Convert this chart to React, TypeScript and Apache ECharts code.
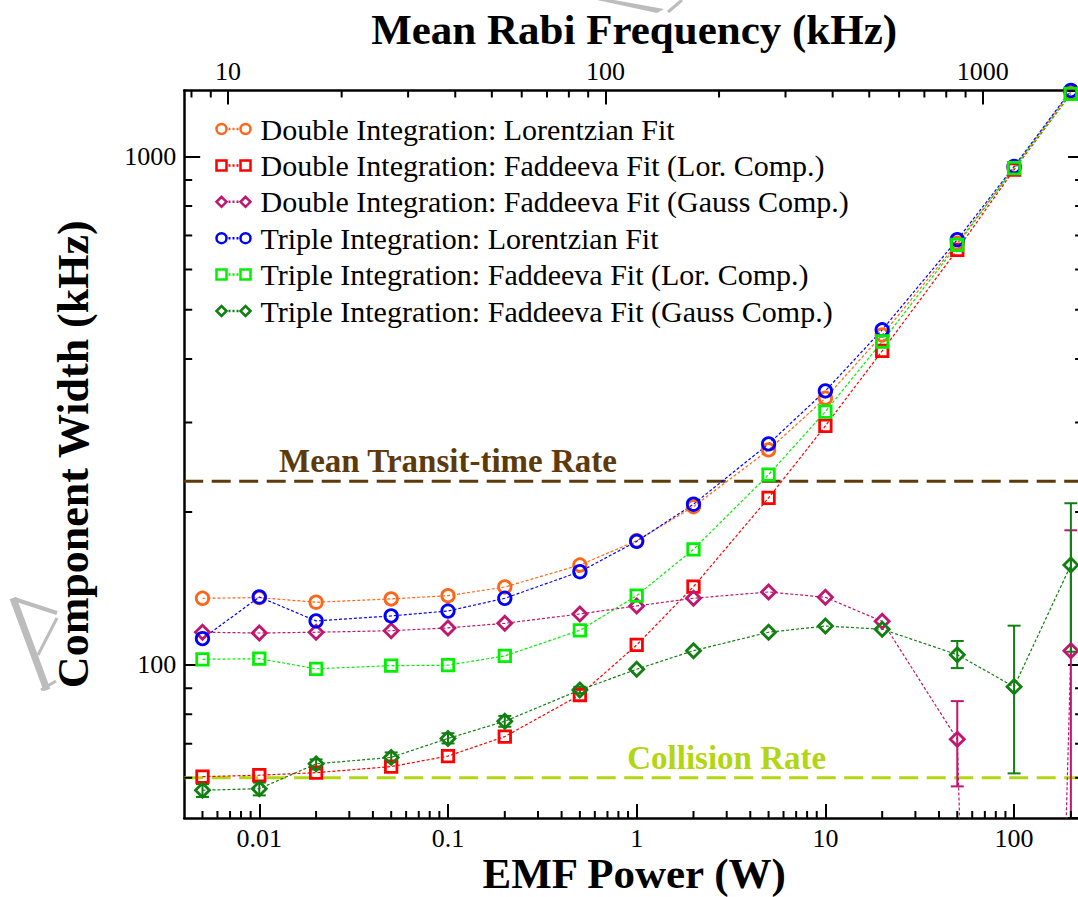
import { useEffect, useRef } from "react";
import * as echarts from "echarts";

// EMF power settings (W), shared by all six fit series
const powerW = [0.005, 0.01, 0.02, 0.05, 0.1, 0.2, 0.5, 1, 2, 5, 10, 20, 50, 100, 200];

// Fitted component widths (kHz) at each power
const doubleLorentzian = [135.3, 135.7, 132.9, 134.9, 136.9, 142.4, 157.3, 175.6, 204.9, 265, 335, 446, 676, 950, 1343];
const doubleFaddeevaLor = [60.3, 60.7, 61.4, 63.1, 66.2, 72.3, 87.3, 109.5, 142.6, 213.2, 295.4, 415, 656, 943, 1330];
const doubleFaddeevaGauss = [116, 115.6, 116, 116.8, 118.3, 120.8, 126, 130.7, 135.3, 139.2, 135.9, 121.9, 71.4, 0.01, 106.7];
const tripleLorentzian = [112.7, 136.1, 122.1, 124.9, 127.7, 135.3, 152.6, 175.1, 207.2, 272.3, 346.2, 456.5, 686.6, 957, 1350];
const tripleFaddeevaLor = [102.6, 102.9, 98.3, 99.7, 99.9, 104.2, 117, 136.9, 168.9, 236.9, 315.2, 433, 671, 950, 1330];
const tripleFaddeevaGauss = [56.7, 57.1, 63.9, 65.8, 71.7, 77.5, 89.3, 98.1, 106.7, 116, 119.3, 117.6, 104.8, 90.6, 157.3];

// Error bars: [power (W), lower (kHz), upper (kHz)]
const doubleGaussErrors = [
  [50, 57.7, 84.9],
  [200, 10, 184.1],
];
const tripleGaussErrors = [
  [0.005, 55.0, 58.3],
  [0.01, 55.4, 58.7],
  [0.02, 62.3, 65.2],
  [0.05, 64.4, 67.3],
  [0.1, 70.1, 73.4],
  [0.2, 75.6, 79.4],
  [0.5, 88.0, 90.6],
  [50, 98.6, 111.5],
  [100, 61.2, 119.5],
  [200, 106.2, 208.1],
];

const seriesNames = [
  "Double Integration: Lorentzian Fit",
  "Double Integration: Faddeeva Fit (Lor. Comp.)",
  "Double Integration: Faddeeva Fit (Gauss Comp.)",
  "Triple Integration: Lorentzian Fit",
  "Triple Integration: Faddeeva Fit (Lor. Comp.)",
  "Triple Integration: Faddeeva Fit (Gauss Comp.)",
];
const seriesValues = [
  doubleLorentzian,
  doubleFaddeevaLor,
  doubleFaddeevaGauss,
  tripleLorentzian,
  tripleFaddeevaLor,
  tripleFaddeevaGauss,
];
const seriesColors = ["#ff6618", "#ff0000", "#bf1770", "#0000ff", "#00f000", "#108010"];
const seriesSymbols = ["circle", "rect", "diamond", "circle", "rect", "diamond"];

// Reference rates (kHz) drawn as dashed horizontal lines
const rateNames = ["Mean Transit-time Rate", "Collision Rate"];
const rateValues = [230, 60];
const rateLabelPowerW = [0.1, 3];
const rateColors = ["#5e3a0a", "#b2d611"];

// Axis ranges
const P_MIN = 0.004;
const P_MAX = 235;
const WIDTH_MIN = 50;
const WIDTH_MAX = 1350;
// Mean Rabi frequency scales as the square root of the EMF power
const RABI_KHZ_PER_SQRT_W = 121;
const RABI_MIN = RABI_KHZ_PER_SQRT_W * Math.sqrt(P_MIN);
const RABI_MAX = RABI_KHZ_PER_SQRT_W * Math.sqrt(P_MAX);

const FONT = '"Liberation Serif", "Times New Roman", serif';
const INK = "#000";

// Minor tick values at 2..9 of every decade within (lo, hi)
function decadeMinors(lo: number, hi: number): number[] {
  const out: number[] = [];
  for (let e = Math.floor(Math.log10(lo)); e <= Math.ceil(Math.log10(hi)); e++) {
    for (let d = 2; d <= 9; d++) {
      const v = Number((d * Math.pow(10, e)).toPrecision(6));
      if (v > lo && v < hi) out.push(v);
    }
  }
  return out;
}

const legendIcons: Record<string, string> = {
  circle:
    "path://M0,5a5,5 0 1,0 10,0a5,5 0 1,0 -10,0M24,5a5,5 0 1,0 10,0a5,5 0 1,0 -10,0M12,5L14,5M16,5L18,5M20,5L22,5",
  rect: "path://M0,0L10,0L10,10L0,10ZM24,0L34,0L34,10L24,10ZM12,5L14,5M16,5L18,5M20,5L22,5",
  diamond: "path://M5,0L10,5L5,10L0,5ZM29,0L34,5L29,10L24,5ZM12,5L14,5M16,5L18,5M20,5L22,5",
};

const fmt = (v: number) => String(Number(Number(v).toPrecision(6)));

function errorBarSeries(name: string, color: string, bars: number[][]) {
  return {
    type: "custom",
    name,
    xAxisIndex: 0,
    yAxisIndex: 0,
    z: 3,
    silent: true,
    clip: true,
    data: bars,
    encode: { x: 0, y: [1, 2] },
    renderItem: (_params: any, api: any) => {
      const p = api.value(0);
      const lo = api.coord([p, api.value(1)]);
      const hi = api.coord([p, api.value(2)]);
      const cap = 6.5;
      const style = { stroke: color, lineWidth: 2 };
      return {
        type: "group",
        children: [
          { type: "line", shape: { x1: lo[0], y1: lo[1], x2: hi[0], y2: hi[1] }, style },
          { type: "line", shape: { x1: lo[0] - cap, y1: lo[1], x2: lo[0] + cap, y2: lo[1] }, style },
          { type: "line", shape: { x1: hi[0] - cap, y1: hi[1], x2: hi[0] + cap, y2: hi[1] }, style },
        ],
      };
    },
  };
}

// Short inward ticks at 2..9 of each decade, placed through the axis scales
function minorTickSeries(kind: "bottom" | "top" | "y", values: number[]) {
  return {
    type: "custom",
    name: "minor-" + kind,
    xAxisIndex: kind === "top" ? 1 : 0,
    yAxisIndex: 0,
    silent: true,
    z: 5,
    data: values.map((v) => (kind === "y" ? [1, v] : [v, 100])),
    renderItem: (params: any, api: any) => {
      const cs = params.coordSys;
      const style = { stroke: INK, lineWidth: 2 };
      if (kind === "y") {
        const py = api.coord([1, api.value(1)])[1];
        return {
          type: "group",
          children: [
            { type: "line", shape: { x1: cs.x, y1: py, x2: cs.x + 8, y2: py }, style },
            { type: "line", shape: { x1: cs.x + cs.width, y1: py, x2: cs.x + cs.width - 9, y2: py }, style },
          ],
        };
      }
      const px = api.coord([api.value(0), 100])[0];
      if (kind === "bottom") {
        const yb = cs.y + cs.height;
        return { type: "line", shape: { x1: px, y1: yb, x2: px, y2: yb - 7 }, style };
      }
      return { type: "line", shape: { x1: px, y1: cs.y, x2: px, y2: cs.y + 7 }, style };
    },
  };
}

function buildOption() {
  const axisLabel = {
    fontFamily: FONT,
    fontSize: 26,
    lineHeight: 26,
    color: INK,
    formatter: fmt,
    showMinLabel: false,
    showMaxLabel: false,
  };
  const axisLine = { show: true, onZero: false, lineStyle: { color: INK, width: 2.5 } };
  const titleStyle = { fontFamily: FONT, fontWeight: "bold", color: INK };

  const lineSeries = seriesNames.map((name, i) => ({
    type: "line",
    name,
    z: 4,
    data: powerW.map((p, j) => [p, seriesValues[i][j]]),
    symbol: seriesSymbols[i],
    symbolSize: seriesSymbols[i] === "diamond" ? 14 : seriesSymbols[i] === "rect" ? 11.5 : 12.5,
    showAllSymbol: true,
    clip: true,
    itemStyle: { color: "transparent", borderColor: seriesColors[i], borderWidth: 2.8 },
    lineStyle: { color: seriesColors[i], width: 1.2, type: [3, 2] },
    emphasis: { disabled: true },
  }));

  const rateSeries = {
    type: "custom",
    name: "reference-rates",
    xAxisIndex: 0,
    yAxisIndex: 0,
    silent: true,
    z: 2,
    data: rateValues.map((r, i) => [rateLabelPowerW[i], r, i]),
    renderItem: (params: any, api: any) => {
      const cs = params.coordSys;
      const i = api.value(2);
      const pt = api.coord([api.value(0), api.value(1)]);
      return {
        type: "group",
        children: [
          {
            type: "line",
            shape: { x1: cs.x, y1: pt[1], x2: cs.x + cs.width, y2: pt[1] },
            style: { stroke: rateColors[i], lineWidth: 3, lineDash: [19, 8.5] },
          },
          {
            type: "text",
            x: pt[0],
            y: pt[1] - 20,
            style: {
              text: rateNames[i],
              fill: rateColors[i],
              fontFamily: FONT,
              fontWeight: "bold",
              fontSize: 33,
              align: "center",
              verticalAlign: "middle",
            },
          },
        ],
      };
    },
  };

  const gray = "#bcbcbc";
  return {
    animation: false,
    backgroundColor: "#fff",
    grid: {
      left: 184.2,
      top: 90.5,
      width: 899.9,
      height: 727.5,
      containLabel: false,
      outerBoundsMode: "none",
    },
    legend: {
      orient: "vertical",
      left: 214,
      top: 114,
      padding: 0,
      itemWidth: 34,
      itemHeight: 10,
      itemGap: 6.4,
      selectedMode: false,
      textStyle: { fontFamily: FONT, fontSize: 30, lineHeight: 30, color: INK, padding: [0, 0, 0, 5] },
      data: seriesNames.map((name, i) => ({
        name,
        icon: legendIcons[seriesSymbols[i]],
        itemStyle: { color: "none", borderColor: seriesColors[i], borderWidth: 2.5 },
      })),
    },
    xAxis: [
      {
        type: "log",
        logBase: 10,
        position: "bottom",
        min: P_MIN,
        max: P_MAX,
        name: "EMF Power (W)",
        nameLocation: "middle",
        nameGap: 34,
        nameMoveOverlap: false,
        nameTextStyle: { ...titleStyle, fontSize: 43, lineHeight: 43 },
        axisLine,
        axisTick: { show: true, inside: true, length: 14, lineStyle: { color: INK, width: 2 } },
        axisLabel: { ...axisLabel, margin: 7 },
        splitLine: { show: false },
        minorTick: { show: false },
      },
      {
        type: "log",
        logBase: 10,
        position: "top",
        min: RABI_MIN,
        max: RABI_MAX,
        name: "Mean Rabi Frequency (kHz)",
        nameLocation: "middle",
        nameGap: 39.5,
        nameMoveOverlap: false,
        nameTextStyle: { ...titleStyle, fontSize: 43, lineHeight: 43 },
        axisLine,
        axisTick: { show: true, inside: true, length: 14, lineStyle: { color: INK, width: 2 } },
        axisLabel: { ...axisLabel, margin: 6 },
        splitLine: { show: false },
        minorTick: { show: false },
      },
    ],
    yAxis: [
      {
        type: "log",
        logBase: 10,
        position: "left",
        min: WIDTH_MIN,
        max: WIDTH_MAX,
        name: "Component Width (kHz)",
        nameLocation: "middle",
        nameGap: 88,
        nameMoveOverlap: false,
        nameTextStyle: { ...titleStyle, fontSize: 44, lineHeight: 46 },
        axisLine,
        axisTick: { show: true, inside: true, length: 16, lineStyle: { color: INK, width: 2 } },
        axisLabel: { ...axisLabel, margin: 8 },
        splitLine: { show: false },
        minorTick: { show: false },
      },
      {
        type: "log",
        logBase: 10,
        position: "right",
        min: WIDTH_MIN,
        max: WIDTH_MAX,
        axisLine,
        axisTick: { show: true, inside: true, length: 16, lineStyle: { color: INK, width: 2 } },
        axisLabel: { show: false },
        splitLine: { show: false },
        minorTick: { show: false },
      },
    ],
    graphic: [
      { type: "polyline", silent: true, shape: { points: [[13, 598], [47, 690]] }, style: { stroke: gray, lineWidth: 7, fill: "none" } },
      { type: "polyline", silent: true, shape: { points: [[14, 599], [57, 613]] }, style: { stroke: gray, lineWidth: 4, fill: "none" } },
      { type: "polyline", silent: true, shape: { points: [[57, 618], [38, 655]] }, style: { stroke: gray, lineWidth: 3, fill: "none" } },
      { type: "polyline", silent: true, shape: { points: [[41, 690], [56, 681]] }, style: { stroke: gray, lineWidth: 3, fill: "none" } },
      { type: "polygon", silent: true, shape: { points: [[597, 0], [614, 0], [664, 9], [657, 13]] }, style: { fill: gray } },
      { type: "polyline", silent: true, shape: { points: [[682, 0], [668, 12]] }, style: { stroke: gray, lineWidth: 3, fill: "none" } },
    ],
    series: [
      rateSeries,
      ...lineSeries,
      errorBarSeries(seriesNames[2], seriesColors[2], doubleGaussErrors),
      errorBarSeries(seriesNames[5], seriesColors[5], tripleGaussErrors),
      minorTickSeries("bottom", decadeMinors(P_MIN, P_MAX)),
      minorTickSeries("top", decadeMinors(RABI_MIN, RABI_MAX)),
      minorTickSeries("y", decadeMinors(WIDTH_MIN, WIDTH_MAX)),
    ],
  };
}

export default function App() {
  const ref = useRef<HTMLDivElement>(null);
  useEffect(() => {
    if (!ref.current) return;
    const chart = echarts.init(ref.current, null, { renderer: "svg" });
    chart.setOption(buildOption() as any);
    return () => chart.dispose();
  }, []);
  return (
    <div
      ref={ref}
      style={{ position: "absolute", left: 0, top: 0, width: 1078, height: 897, background: "#fff" }}
    />
  );
}
